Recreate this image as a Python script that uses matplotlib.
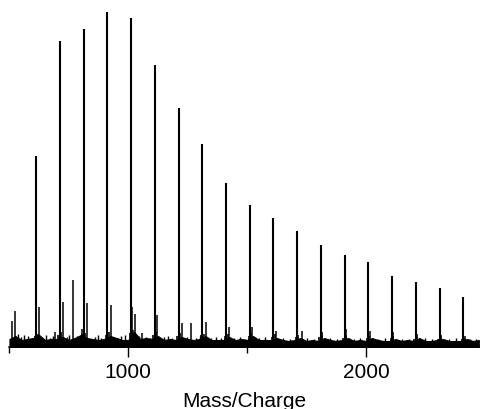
import numpy as np
import matplotlib
matplotlib.use('Agg')
import matplotlib.pyplot as plt
from matplotlib.ticker import MultipleLocator

plt.rcParams['font.family'] = ['Liberation Sans', 'DejaVu Sans']

# 主峰 (m/z, 强度)
peak_mz = [612, 712, 812, 912, 1012, 1112, 1212, 1312, 1412, 1512,
           1611, 1711, 1810, 1910, 2010, 2110, 2210, 2310, 2409]
peak_int = [188, 303, 315, 332, 326, 279, 236, 200, 161, 139,
            126, 113, 99, 89, 82, 68, 62, 56, 47]

# 伴峰
sat_mz = [511, 522, 626, 693, 727, 769, 807, 828, 929, 1017, 1029, 1059,
          1122, 1227, 1265, 1328, 1424, 1521, 1622, 1731, 1815, 1916,
          2017, 2113, 2214, 2315, 2416]
sat_int = [23, 33, 37, 12, 42, 64, 15, 41, 39, 37, 30, 11,
           29, 21, 21, 22, 17, 17, 13, 13, 12, 15,
           13, 12, 10, 9, 8]

# 主峰底部的小包
base_mz = [606, 618, 705, 718, 806, 818, 906, 918, 1006, 1020, 1106, 1117,
           1206, 1218, 1306, 1318, 1406, 1418, 1506, 1517, 1605, 1616,
           1705, 1716, 1804, 1816, 1904, 1915, 2004, 2015, 2104, 2116,
           2204, 2216, 2304, 2316, 2403, 2414]
base_int = [8, 10, 9, 12, 10, 11, 9, 12, 11, 14, 9, 12, 8, 11, 9, 10, 8, 10,
            8, 11, 7, 10, 7, 9, 7, 9, 6, 9, 6, 8, 6, 8, 5, 7, 5, 7, 5, 6]

# 基线上的噪声尖刺
spike_mz = [535, 548, 562, 580, 655, 670, 684, 740, 752, 785, 860, 872,
            885, 955, 968, 985, 1045, 1075, 1090, 1150, 1168, 1185, 1245,
            1285, 1300, 1350, 1370, 1390, 1445, 1470, 1490, 1550, 1575,
            1650, 1680, 1750, 1780, 1850, 1880, 1950, 1975, 2050, 2080,
            2150, 2180, 2250, 2280, 2350, 2380, 2440, 2465]
spike_int = [10, 7, 9, 8, 9, 6, 8, 7, 9, 8, 7, 9, 6, 6, 8, 9, 8, 7, 6, 7, 8,
             6, 7, 6, 8, 6, 7, 6, 6, 7, 5, 6, 7, 6, 5, 6, 5, 6, 5, 5, 6, 5,
             6, 5, 5, 6, 5, 5, 6, 5, 5]

# 基线噪声 (每25一个点, 500 到 2475)
noise_mz = list(range(500, 2500, 25))
noise_top = [5, 8, 4, 5, 6, 9, 4, 5, 5, 7, 4, 6, 9, 6, 5, 4,
             5, 8, 6, 4, 4, 12, 5, 6, 5, 8, 4, 5, 4, 7, 5, 4,
             5, 8, 4, 4, 4, 7, 4, 5, 4, 8, 4, 4, 4, 6, 4, 3,
             4, 6, 3, 4, 3, 6, 4, 3, 4, 6, 3, 4, 3, 6, 4, 3,
             3, 5, 3, 4, 3, 6, 3, 3, 4, 5, 3, 3, 3, 5, 3, 4]

fig = plt.figure(figsize=(4.8, 4.1), dpi=100)
ax = fig.add_axes([9 / 480, 62 / 410, 471 / 480, 348 / 410])

ax.fill_between(noise_mz, -3, noise_top, color='black', lw=0.8)
ax.vlines(spike_mz, 0, spike_int, color='black', lw=1.0)
ax.vlines(base_mz, 0, base_int, color='black', lw=1.2)
ax.vlines(sat_mz, 0, sat_int, color='black', lw=1.1)
ax.vlines(peak_mz, 0, peak_int, color='black', lw=1.5)

ax.set_xlim(498, 2480)
ax.set_ylim(-3, 345)

for s in ['top', 'right', 'left']:
    ax.spines[s].set_visible(False)
ax.spines['bottom'].set_linewidth(1.1)
ax.set_yticks([])
ax.xaxis.set_major_locator(MultipleLocator(1000))
ax.xaxis.set_minor_locator(MultipleLocator(500))
ax.tick_params(axis='x', which='major', length=7, width=1.0, pad=4, labelsize=15)
ax.tick_params(axis='x', which='minor', length=4, width=1.0)
ax.set_xlabel('Mass/Charge', fontsize=15, labelpad=7)

fig.savefig('out.png', dpi=100)
